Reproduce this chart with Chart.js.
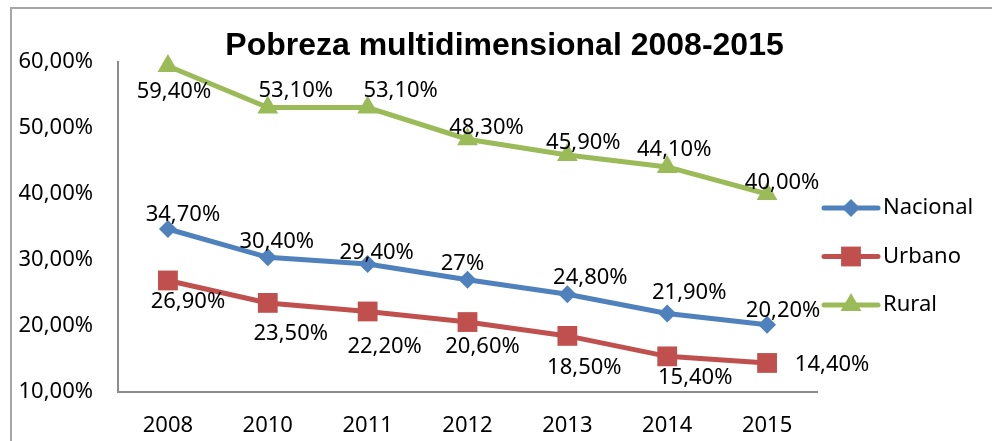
<!DOCTYPE html>
<html>
<head>
<meta charset="utf-8">
<script src="https://cdn.jsdelivr.net/npm/chart.js@4"></script>
<style>
  html, body { margin: 0; padding: 0; background: #fff; overflow: hidden; }
  #wrap { width: 994px; height: 441px; position: relative; }
</style>
</head>
<body>
<div id="wrap"><canvas id="myChart"></canvas></div>
<script>
const labels = ['2008', '2010', '2011', '2012', '2013', '2014', '2015'];
const nacional = [34.7, 30.4, 29.4, 27, 24.8, 21.9, 20.2];
const urbano = [26.9, 23.5, 22.2, 20.6, 18.5, 15.4, 14.4];
const rural = [59.4, 53.1, 53.1, 48.3, 45.9, 44.1, 40.0];
const yTicks = [10, 20, 30, 40, 50, 60];
// in the original, Nacional 2012 is shown as "27%"
const sinDecimales = { Nacional: [3] };

// where each data label sits, relative to its point (px)
const offsets = {
  Nacional: [[15, -14], [9, -16], [9, -11], [-5, -16], [23, -17], [22, -21], [16, -14]],
  Urbano: [[20, 21], [23, 31], [17, 35], [15, 25], [17, 32], [28, 21], [65, 2]],
  Rural: [[6, 26], [28, -17], [33, -17], [19, -11], [16, -12], [7, -17], [15, -11]],
};

Chart.defaults.font.family = "'Noto Sans', sans-serif";
Chart.defaults.font.size = 22;
Chart.defaults.color = '#000';

const pct = v => v.toFixed(2).replace('.', ',') + '%';

function drawMarker(ctx, style, x, y, r) {
  ctx.beginPath();
  if (style === 'rectRot') {
    ctx.moveTo(x, y - r);
    ctx.lineTo(x + r, y);
    ctx.lineTo(x, y + r);
    ctx.lineTo(x - r, y);
  } else if (style === 'rect') {
    const s = r * Math.SQRT1_2;
    ctx.rect(x - s, y - s, 2 * s, 2 * s);
  } else {
    ctx.moveTo(x, y - r);
    ctx.lineTo(x + 0.866 * r, y + 0.5 * r);
    ctx.lineTo(x - 0.866 * r, y + 0.5 * r);
  }
  ctx.closePath();
  ctx.fill();
}

// outer frame: only top and left edges, like the original
const marco = {
  id: 'marco',
  beforeDraw(chart) {
    const ctx = chart.ctx;
    ctx.save();
    ctx.fillStyle = '#a6a6a6';
    ctx.fillRect(10, 7, 2, chart.height - 7);
    ctx.fillRect(10, 7, 982, 2);
    ctx.restore();
  }
};

const etiquetas = {
  id: 'etiquetas',
  afterDatasetsDraw(chart) {
    const ctx = chart.ctx;
    ctx.save();
    ctx.font = "22px 'Noto Sans', sans-serif";
    ctx.fillStyle = '#000';
    ctx.textAlign = 'center';
    ctx.textBaseline = 'middle';
    chart.data.datasets.forEach((ds, di) => {
      const meta = chart.getDatasetMeta(di);
      const off = offsets[ds.label];
      const enteros = sinDecimales[ds.label] || [];
      meta.data.forEach((pt, i) => {
        const v = ds.data[i];
        const txt = enteros.includes(i) ? v + '%' : pct(v);
        ctx.fillText(txt, pt.x + off[i][0], pt.y + off[i][1]);
      });
    });
    ctx.restore();
  }
};

const leyenda = {
  id: 'leyenda',
  afterDraw(chart) {
    const ctx = chart.ctx;
    const x0 = chart.chartArea.right + 7;
    ctx.save();
    ctx.font = "22px 'Noto Sans', sans-serif";
    ctx.textBaseline = 'middle';
    ctx.textAlign = 'left';
    chart.data.datasets.forEach((ds, i) => {
      const y = 208 + i * 48.5;
      ctx.strokeStyle = ds.borderColor;
      ctx.lineWidth = 5;
      ctx.lineCap = 'round';
      ctx.beginPath();
      ctx.moveTo(x0, y);
      ctx.lineTo(x0 + 54, y);
      ctx.stroke();
      ctx.fillStyle = ds.borderColor;
      drawMarker(ctx, ds.pointStyle, x0 + 27, y, ds.pointRadius);
      ctx.fillStyle = '#000';
      ctx.fillText(ds.label, x0 + 59, y);
    });
    ctx.restore();
  }
};

const data = {
  labels: labels,
  datasets: [
    {
      label: 'Nacional',
      data: nacional,
      borderColor: '#4f81bd',
      backgroundColor: '#4f81bd',
      borderWidth: 5,
      pointStyle: 'rectRot',
      pointRadius: 9,
      pointBorderWidth: 0,
      clip: false,
    },
    {
      label: 'Urbano',
      data: urbano,
      borderColor: '#c0504d',
      backgroundColor: '#c0504d',
      borderWidth: 5,
      pointStyle: 'rect',
      pointRadius: 14,
      pointBorderWidth: 0,
      clip: false,
    },
    {
      label: 'Rural',
      data: rural,
      borderColor: '#9bbb59',
      backgroundColor: '#9bbb59',
      borderWidth: 5,
      pointStyle: 'triangle',
      pointRadius: 12,
      pointBorderWidth: 0,
      clip: false,
    },
  ],
};

const config = {
  type: 'line',
  data: data,
  options: {
    responsive: true,
    maintainAspectRatio: false,
    animation: false,
    layout: { padding: { left: 15, right: 0, top: 0, bottom: 0 } },
    plugins: {
      legend: { display: false },
      tooltip: { enabled: false },
      title: {
        display: true,
        text: 'Pobreza multidimensional 2008-2015',
        color: '#000',
        font: { family: "'Liberation Sans', Arial, sans-serif", size: 32, weight: 'bold', lineHeight: 1 },
        padding: { top: 30, bottom: 0 },
      },
    },
    scales: {
      x: {
        offset: true,
        grid: { display: false, drawTicks: false },
        border: { display: true, color: '#8c8c8c', width: 2 },
        ticks: { padding: 21, maxRotation: 0 },
        afterFit: s => { s.height = 49; },
      },
      y: {
        min: 10,
        max: 60,
        grid: { display: false, drawTicks: false },
        border: { display: true, color: '#8c8c8c', width: 2 },
        ticks: { padding: 25, callback: v => pct(v) },
        afterBuildTicks: s => { s.ticks = yTicks.map(v => ({ value: v })); },
        afterFit: s => { s.width = 103; },
      },
      // empty axis that only keeps the room on the right for the legend
      y2: {
        position: 'right',
        display: true,
        grid: { display: false, drawTicks: false, drawOnChartArea: false },
        border: { display: false, width: 0 },
        ticks: { display: false },
        afterFit: s => { s.width = 177; },
      },
    },
  },
  plugins: [marco, etiquetas, leyenda],
};

const myChart = new Chart(document.getElementById('myChart'), config);
</script>
</body>
</html>
